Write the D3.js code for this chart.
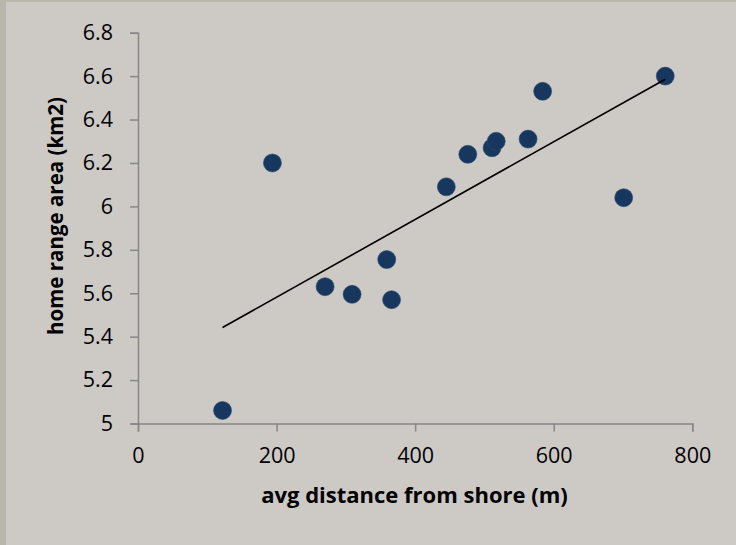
<!DOCTYPE html>
<html>
<head>
<meta charset="utf-8">
<script src="https://cdn.jsdelivr.net/npm/d3@7"></script>
<style>
  html, body { margin: 0; padding: 0; background: #cdcac6; }
  svg { display: block; }
  text { font-family: "Open Sans", Lato, sans-serif; fill: #000; }
  .title { font-weight: bold; }
</style>
</head>
<body>
<svg id="chart" width="736" height="545"></svg>
<script>
// Distance from shore (m) vs. home range area (km2)
const distance = [122, 194, 270, 309, 359, 366, 445, 476, 511, 517, 563, 584, 701, 761];
const homeRange = [5.06, 6.20, 5.63, 5.595, 5.755, 5.57, 6.09, 6.24, 6.27, 6.30, 6.31, 6.53, 6.04, 6.60];
const xTicks = [0, 200, 400, 600, 800];
const yTicks = [5, 5.2, 5.4, 5.6, 5.8, 6, 6.2, 6.4, 6.6, 6.8];
const xTitle = "avg distance from shore (m)";
const yTitle = "home range area (km2)";

const W = 736, H = 545;
const svg = d3.select("#chart");

// frame
svg.append("rect").attr("width", W).attr("height", H).attr("fill", "#b9b6ac");
svg.append("rect").attr("x", 6).attr("y", 2).attr("width", W - 6).attr("height", H - 2).attr("fill", "#cdcac6");

const x = d3.scaleLinear().domain([0, 800]).range([138, 692.3]);
const y = d3.scaleLinear().domain([5, 6.8]).range([423.5, 32.7]);

const axisColor = "#878787";

// y axis
const gy = svg.append("g").attr("transform", `translate(${x(0)},0)`)
  .call(d3.axisLeft(y).tickValues(yTicks).tickSize(8).tickPadding(17)
    .tickFormat(d => d3.format("")(+d.toFixed(1))));
gy.select(".domain").attr("stroke", axisColor).attr("stroke-width", 1.5);
gy.selectAll(".tick line").attr("stroke", axisColor).attr("stroke-width", 1.5);
gy.selectAll(".tick text").attr("font-size", 21.5).attr("font-family", "Open Sans").attr("fill", "#000");

// x axis
const gx = svg.append("g").attr("transform", `translate(0,${y(5)})`)
  .call(d3.axisBottom(x).tickValues(xTicks).tickSize(8).tickPadding(16));
gx.select(".domain").attr("stroke", axisColor).attr("stroke-width", 1.5);
gx.selectAll(".tick line").attr("stroke", axisColor).attr("stroke-width", 1.5);
gx.selectAll(".tick text").attr("font-size", 21.5).attr("font-family", "Open Sans").attr("fill", "#000");

// least-squares trend line over the data range
const n = distance.length;
const mx = d3.mean(distance), my = d3.mean(homeRange);
let sxy = 0, sxx = 0;
for (let i = 0; i < n; i++) {
  sxy += (distance[i] - mx) * (homeRange[i] - my);
  sxx += (distance[i] - mx) ** 2;
}
const slope = sxy / sxx, intercept = my - slope * mx;
const [x0, x1] = d3.extent(distance);
const trend = [[x0, intercept + slope * x0], [x1, intercept + slope * x1]];

// points
svg.append("g").selectAll("circle")
  .data(distance.map((d, i) => [d, homeRange[i]]))
  .join("circle")
  .attr("cx", d => x(d[0]))
  .attr("cy", d => y(d[1]))
  .attr("r", 9)
  .attr("fill", "#17375e")
  .attr("stroke", "#2a4a72")
  .attr("stroke-width", 0.6);

svg.append("path")
  .attr("d", d3.line().x(d => x(d[0])).y(d => y(d[1]))(trend))
  .attr("stroke", "#000").attr("stroke-width", 1.6).attr("fill", "none");

// axis titles
svg.append("text").attr("class", "title")
  .attr("x", 414.5).attr("y", 503)
  .attr("text-anchor", "middle")
  .attr("font-size", 22)
  .text(xTitle);

svg.append("text").attr("class", "title")
  .attr("transform", `translate(63,216) rotate(-90)`)
  .attr("text-anchor", "middle")
  .attr("font-size", 20.5)
  .text(yTitle);
</script>
</body>
</html>
